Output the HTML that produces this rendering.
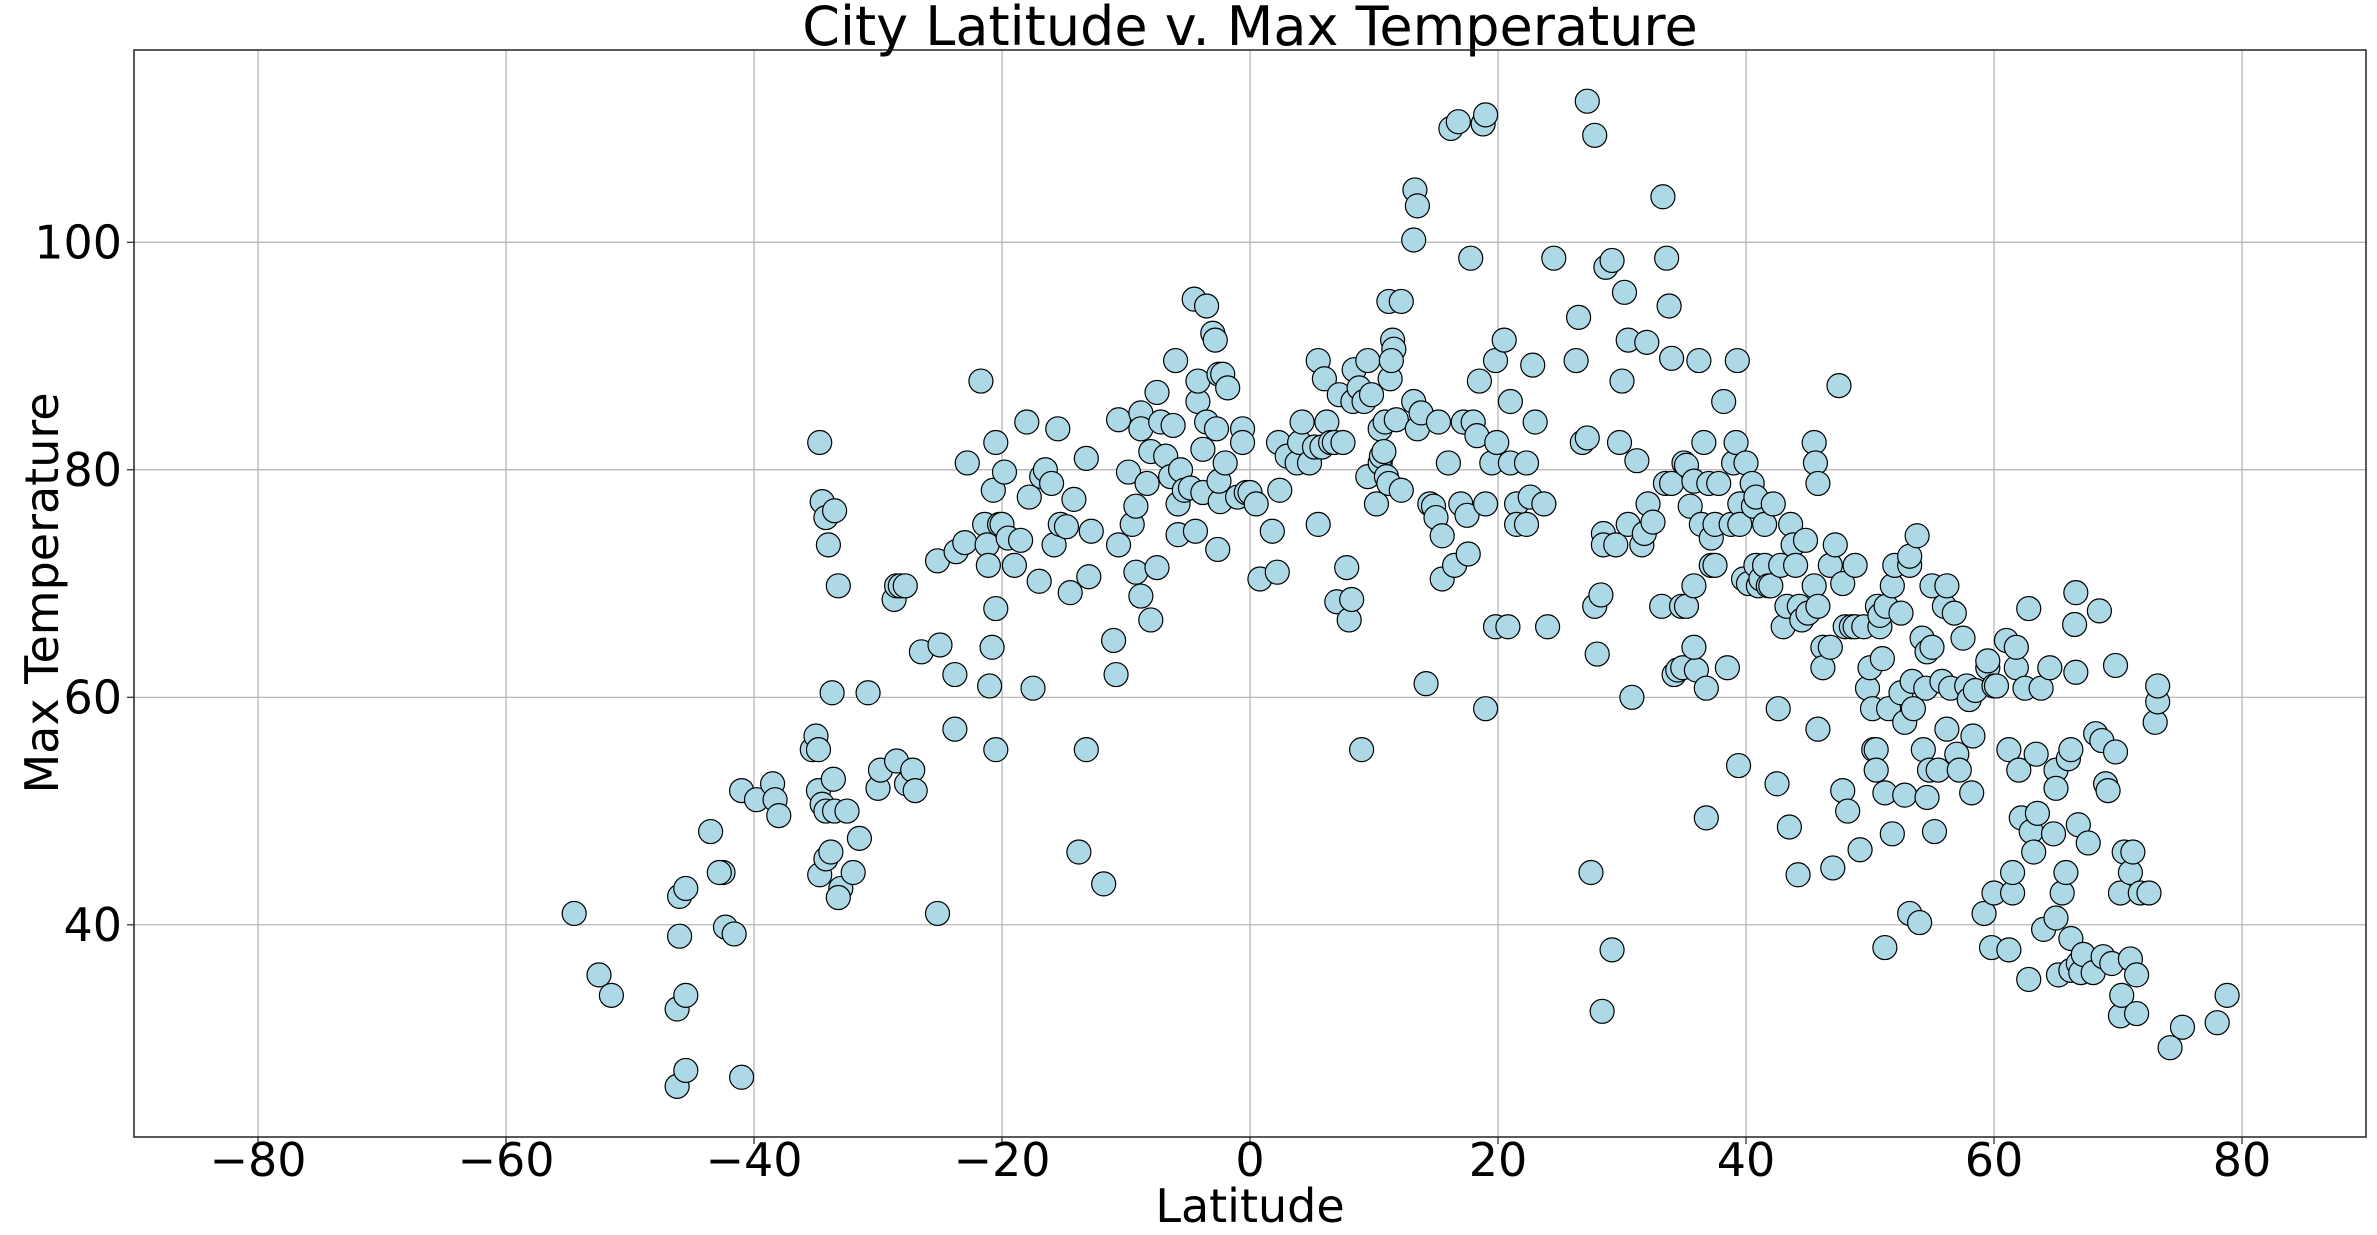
<!DOCTYPE html>
<html><head><meta charset="utf-8"><style>
body{margin:0;background:#fff;}
svg{display:block;font-family:"DejaVu Sans","Liberation Sans",sans-serif;}
</style></head><body>
<svg id="chart" width="2377" height="1235" viewBox="0 0 2377 1235">
<text x="1250" y="45" font-size="54" text-anchor="middle">City Latitude v. Max Temperature</text>
<g id="grid"></g>
<g id="points"></g>
<rect x="134" y="50" width="2232" height="1087" fill="none" stroke="#222" stroke-width="1.5"/>
<g id="ticks"></g>
<text x="1250" y="1222" font-size="46" text-anchor="middle">Latitude</text>
<text transform="translate(58,593) rotate(-90)" font-size="46" text-anchor="middle">Max Temperature</text>
</svg>
<script>
const xTicks=[-80,-60,-40,-20,0,20,40,60,80];
const yTicks=[40,60,80,100];
const lats=[-54.5,-52.5,-51.5,-46,-45.5,-46,-46.2,-45.5,-46.2,-45.5,-41,-43.5,-42.5,-42.8,-42.3,-41.6,-41,-39.8,-38.5,-38.3,-38,-35.3,-35,-34.8,-34.7,-34.5,-34.2,-33.5,-34,-33.2,-34.8,-34.5,-34.2,-33.6,-34.7,-34.2,-33.8,-33.7,-33.5,-33,-33.2,-32.5,-32,-31.5,-30.8,-30,-29.8,-28.7,-28.5,-28.2,-27.8,-28.5,-27.7,-27.2,-27,-26.5,-25.2,-25,-25.2,-23.7,-23,-22.8,-23.8,-23.8,-21.7,-21.4,-21.2,-21.1,-21,-20.8,-20.5,-20.7,-20.2,-20.5,-20,-19.8,-19.5,-20.5,-19,-18.5,-18,-17.8,-17.5,-17,-16.8,-16.5,-16,-15.8,-15.5,-15.3,-14.8,-14.5,-14.2,-13.8,-13.2,-13.2,-12.8,-13,-11.8,-11,-10.8,-10.6,-10.6,-9.8,-9.5,-9.2,-9.2,-8.8,-8.8,-8.8,-8.3,-8,-8,-7.5,-7.5,-7.2,-6.8,-6.4,-6.2,-6,-5.8,-5.8,-5.6,-5.3,-4.8,-4.5,-4.4,-4.2,-4.2,-3.8,-3.5,-3.5,-3.8,-3,-2.8,-2.7,-2.5,-2.2,-2.4,-2.5,-2.6,-2,-1.8,-1,-0.6,-0.6,-0.3,0,0.5,0.8,1.8,2.2,2.4,2.3,3,3.8,4,4.2,4.8,5.2,5.5,5.5,5.8,6,6.2,6.5,6.8,7,7.2,7.5,7.8,8,8.2,8.3,8.4,8.8,9,9.2,9.5,9.5,9.8,10.2,10.5,10.5,10.6,10.8,10.9,11,11.2,11.2,11.3,11.5,11.6,11.4,11.8,12.2,12.2,13.2,13.3,13.5,13.2,13.5,13.8,14.2,14.5,14.8,15,15.2,15.5,15.5,16,16.2,16.8,16.5,17,17.2,17.5,17.6,17.8,18,18.3,18.5,18.8,19,19,19,19.5,19.8,19.9,19.8,20.5,21,21,20.8,21.5,21.5,22.3,22.3,22.8,22.6,23,23.7,24,24.5,26.3,26.5,26.8,27.2,27.2,27.5,27.8,27.8,28,28.4,28.3,28.5,28.5,28.7,29.2,29.2,29.5,29.8,30,30.2,30.5,30.5,30.8,31.2,31.6,31.8,32,32.1,32.5,33.2,33.3,33.5,33.6,33.8,34,34,34.2,34.5,34.8,34.9,35,35.2,35.2,35.5,35.8,35.8,36,35.8,36.2,36.4,36.6,36.8,36.8,37,37.2,37.5,37.2,37.5,37.8,38.2,38.5,38.8,39,39.2,39.3,39.4,39.5,39.5,39.8,40,40.2,40.5,40.6,40.8,40.8,41,41.2,41.5,41.5,41.8,42,42.2,42.5,42.6,42.8,43,43.3,43.5,43.6,43.8,44,44.2,44.3,44.5,44.8,45,45.5,45.5,45.6,45.8,45.8,45.8,46.2,46.2,46.8,46.8,47,47.2,47.5,47.8,47.8,48,48.2,48.5,48.8,48.8,49.2,49.5,49.8,50,50.2,50.3,50.5,50.5,50.6,50.8,50.8,51,51.2,51.2,51.3,51.5,51.8,51.8,52,52.5,52.5,52.8,52.8,53.2,53.2,53.2,53.4,53.5,53.8,54,54.2,54.3,54.8,54.5,54.6,54.6,55,55.2,55,55.5,55.8,56,56.2,56.2,56.5,56.8,57,57.2,57.5,57.8,58,58.2,58.3,58.5,59.2,59.5,59.5,59.8,60,60,60.2,61,61.2,61.2,61.5,61.5,61.8,61.8,62,62.2,62.5,62.8,62.8,63,63.2,63.4,63.5,63.8,64,64.5,64.8,65,65,65,65.2,65.5,65.8,66,66.2,66.2,66.2,66.5,66.6,66.6,66.8,66.8,67,67.2,67.6,68,68.2,68.5,68.7,68.8,69,69.2,69.5,69.8,69.8,70.2,70.2,70.3,70.5,71,71,71.2,71.5,71.5,71.8,72.5,73,73.2,73.2,74.2,75.2,78,78.8];
const temps=[41,35.6,33.8,42.5,43.2,39,32.6,33.8,25.8,27.2,26.6,48.2,44.6,44.6,39.8,39.2,51.8,51,52.4,51,49.6,55.4,56.6,55.4,82.4,77.2,75.8,76.4,73.4,69.8,51.8,50.6,50,52.8,44.4,45.8,46.4,60.4,50,43.2,42.4,50,44.6,47.6,60.4,52,53.6,68.6,69.8,69.8,69.8,54.4,52.4,53.6,51.8,64,72,64.6,41,72.8,73.6,80.6,57.2,62,87.8,75.2,73.4,71.6,61,64.4,67.8,78.2,75.2,82.4,75.2,79.8,74,55.4,71.6,73.8,84.2,77.6,60.8,70.2,79.4,80,78.8,73.4,83.6,75.2,75,69.2,77.4,46.4,81,55.4,74.6,70.6,43.6,65,62,73.4,84.4,79.8,75.2,76.8,71,85,83.6,68.9,78.8,66.8,81.6,86.8,71.4,84.2,81.2,79.4,83.9,89.6,77,74.3,80,78.2,78.4,95,74.6,86,87.8,78,94.4,84.2,81.8,92,91.4,83.6,88.4,88.4,77.2,79,73,80.6,87.2,77.6,83.6,82.4,78,78,77,70.4,74.6,71,78.2,82.4,81.2,80.6,82.4,84.2,80.6,82,89.6,75.2,82,88,84.2,82.4,82.4,68.4,86.6,82.4,71.4,66.8,68.6,86,88.8,87.2,55.4,86,89.6,79.4,86.6,77,80.6,83.6,81.2,81.6,84.2,79.4,78.8,94.8,88,91.4,90.6,89.6,84.4,94.8,78.2,100.2,104.6,103.2,86,83.6,85,61.2,77,76.8,75.8,84.2,74.2,70.4,80.6,110,110.6,71.6,77,84.2,76,72.6,98.6,84.2,83,87.8,110.4,111.2,77,59,80.6,89.6,82.4,66.2,91.4,80.6,86,66.2,77,75.2,75.2,80.6,89.2,77.6,84.2,77,66.2,98.6,89.6,93.4,82.4,82.8,112.4,44.6,109.4,68,63.8,32.4,69,74.4,73.4,97.8,98.4,37.8,73.4,82.4,87.8,95.6,91.4,75.2,60,80.8,73.4,74.4,91.2,77,75.4,68,104,78.8,98.6,94.4,89.8,78.8,62,62.4,68,62.6,80.6,80.4,68,76.8,79,69.8,62.4,64.4,89.6,75.2,82.4,60.8,49.4,78.8,74,75.2,71.6,71.6,78.8,86,62.6,75.2,80.6,82.4,89.6,54,77,75.2,70.4,80.6,70,78.8,76.8,77.6,71.6,69.8,70.4,71.6,75.2,69.8,69.8,77,52.4,59,71.6,66.2,68,48.6,75.2,73.4,71.6,44.4,68,66.8,73.8,67.4,69.8,82.4,80.6,57.2,68,78.8,64.4,62.6,64.4,71.6,45,73.4,87.4,51.8,70,66.2,50,66.2,71.6,66.2,46.6,66.2,60.8,62.6,59,55.4,55.4,53.6,68,66.2,67.2,63.4,51.6,38,68,59,48,69.8,71.6,60.4,67.4,57.8,51.4,71.6,72.4,41,61.4,59,74.2,40.2,65.2,55.4,53.6,60.8,64,51.2,69.8,48.2,64.4,53.6,61.4,68,69.8,57.2,60.8,67.4,55,53.6,65.2,61,59.8,51.6,56.6,60.6,41,62.6,63.2,38,61,42.8,61,65,55.4,37.8,42.8,44.6,62.6,64.4,53.6,49.4,60.8,67.8,35.2,48.2,46.4,55,49.8,60.8,39.6,62.6,48,53.6,52,40.6,35.6,42.8,44.6,54.6,55.4,36,38.8,66.4,62.2,69.2,48.8,36.6,35.8,37.4,47.2,35.8,56.8,67.6,56.2,37.2,52.4,51.8,36.6,62.8,55.2,42.8,32,33.8,46.4,37,44.6,46.4,35.6,32.2,42.8,42.8,57.8,59.6,61,29.2,31,31.4,33.8];
const NS='http://www.w3.org/2000/svg';
const L=134,R=2366,T=50,B=1137,XMIN=-90,XMAX=90,YMIN=21.35,YMAX=116.9;
function xs(v){return L+(v-XMIN)/(XMAX-XMIN)*(R-L);}
function ys(v){return B-(v-YMIN)/(YMAX-YMIN)*(B-T);}
function mk(t,a){const e=document.createElementNS(NS,t);for(const k in a)e.setAttribute(k,a[k]);return e;}
const grid=document.getElementById('grid'),pts=document.getElementById('points'),tk=document.getElementById('ticks');
xTicks.forEach(v=>{const x=xs(v);
 const g=mk('line',{x1:x,x2:x,y1:T,y2:B,stroke:'#b0b0b0','stroke-width':1.2});
 
 
 grid.appendChild(g);
 const m=mk('line',{x1:x,x2:x,y1:B,y2:B+7,stroke:'#222','stroke-width':1.2});
 
 
 tk.appendChild(m);
 const t=mk('text',{x:x,y:1176,'font-size':46,'text-anchor':'middle'});
 t.textContent=(v<0?'\u2212':'')+Math.abs(v);
 
 
 tk.appendChild(t);});
yTicks.forEach(v=>{const y=ys(v);
 const g=mk('line',{x1:L,x2:R,y1:y,y2:y,stroke:'#b0b0b0','stroke-width':1.2});
 
 
 grid.appendChild(g);
 const m=mk('line',{x1:L-7,x2:L,y1:y,y2:y,stroke:'#222','stroke-width':1.2});
 
 
 tk.appendChild(m);
 const t=mk('text',{x:L-12,y:y+16,'font-size':46,'text-anchor':'end'});
 t.textContent=v;
 
 
 tk.appendChild(t);});
lats.forEach((la,i)=>{
 const c=mk('circle',{cx:xs(la),cy:ys(temps[i]),r:12,fill:'#add8e6',stroke:'#000','stroke-width':1.2});
 
 
 pts.appendChild(c);});
</script>
</body></html>
